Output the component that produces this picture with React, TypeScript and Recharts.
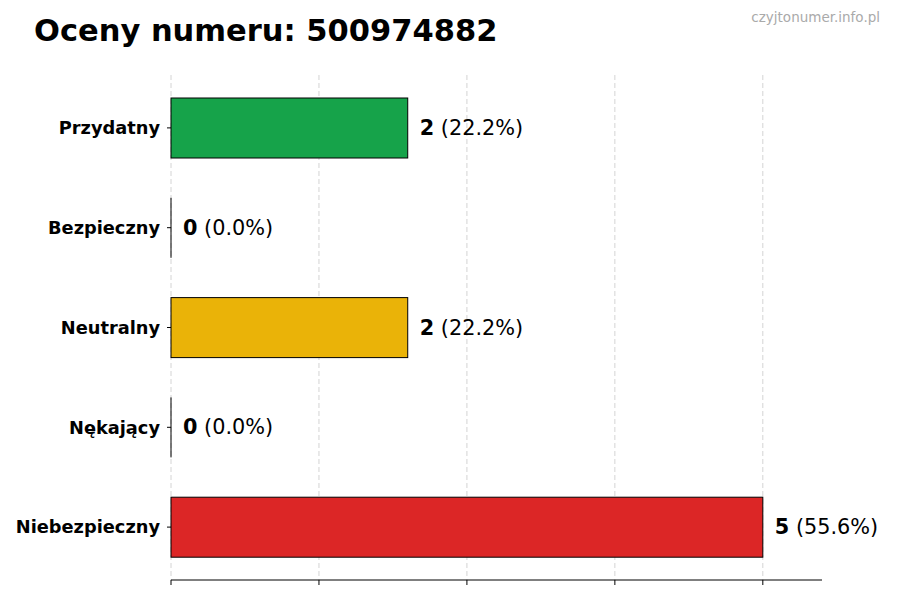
import React from 'react';
import {
    BarChart,
    Bar,
    XAxis,
    YAxis,
    CartesianGrid,
    Cell,
    LabelList,
} from 'recharts';

const categories = ['Przydatny', 'Bezpieczny', 'Neutralny', 'Nękający', 'Niebezpieczny'];
const counts = [2, 0, 2, 0, 5];
const percents = ['22.2%', '0.0%', '22.2%', '0.0%', '55.6%'];
const colors = ['#16a34a', '#4ade80', '#eab308', '#f97316', '#dc2626'];
const xTicks = [0, 1.25, 2.5, 3.75, 5];

const data = categories.map((name, i) => ({
    name,
    count: counts[i],
    pct: percents[i],
}));

const FONT = '"DejaVu Sans", sans-serif';

// zero-count bars are drawn as a thin black edge, like the original
const BarShape = (props: any) => {
    const { x, y, width, height, fill, payload } = props;
    if (payload && payload.count === 0) {
        return <line x1={x} x2={x} y1={y} y2={y + height} stroke="#000" strokeWidth={1} />;
    }
    return (
        <rect
            x={x}
            y={y}
            width={Math.max(width, 0)}
            height={height}
            fill={fill}
            stroke="#000"
            strokeWidth={1}
        />
    );
};

const ValueLabel = (props: any) => {
    const { x, y, height, index } = props;
    const row = data[index];
    const w = row.count === 0 ? 0 : props.width;
    return (
        <text
            x={x + w + 12}
            y={y + height / 2 + 7}
            fontFamily={FONT}
            fontSize={20.8}
            fill="#000"
        >
            <tspan fontWeight="bold">{row.count}</tspan>
            <tspan> ({row.pct})</tspan>
        </text>
    );
};

const NoLabel = () => <g />;

const App: React.FC = () => {
    return (
        <div style={{ position: 'absolute', left: 0, top: 0, width: 900, height: 600, background: '#fff' }}>
            <BarChart
                width={900}
                height={600}
                data={data}
                layout="vertical"
                margin={{ top: 75, right: 78, left: 0, bottom: 15 }}
                barSize={60}
            >
                <CartesianGrid
                    horizontal={false}
                    syncWithTicks
                    strokeDasharray="5 3"
                    stroke="#d4d4d4"
                />
                <XAxis
                    type="number"
                    domain={[0, 5.5]}
                    ticks={xTicks}
                    tick={<NoLabel />}
                    tickSize={5}
                    stroke="#000"
                    axisLine={{ stroke: '#000' }}
                    tickLine={{ stroke: '#000' }}
                    height={5}
                />
                <YAxis
                    type="category"
                    dataKey="name"
                    width={171}
                    padding={{ top: 3, bottom: 3 }}
                    axisLine={false}
                    tickSize={4}
                    tickMargin={7}
                    stroke="#000"
                    tickLine={{ stroke: '#000' }}
                    tick={{ fill: '#000', fontSize: 17.8, fontWeight: 'bold', fontFamily: FONT }}
                />
                <Bar
                    dataKey="count"
                    isAnimationActive={false}
                    minPointSize={1}
                    shape={<BarShape />}
                >
                    {data.map((_, index) => (
                        <Cell key={`cell-${index}`} fill={colors[index]} />
                    ))}
                    <LabelList dataKey="count" content={<ValueLabel />} />
                </Bar>
            </BarChart>
            <svg
                width={900}
                height={60}
                style={{ position: 'absolute', left: 0, top: 0, pointerEvents: 'none' }}
            >
                <text x={34} y={41} fontFamily={FONT} fontSize={30.5} fontWeight="bold" fill="#000">
                    Oceny numeru: 500974882
                </text>
                <text x={880} y={22} textAnchor="end" fontFamily={FONT} fontSize={13.5} fill="#aaaaaa">
                    czyjtonumer.info.pl
                </text>
            </svg>
        </div>
    );
};

export default App;
